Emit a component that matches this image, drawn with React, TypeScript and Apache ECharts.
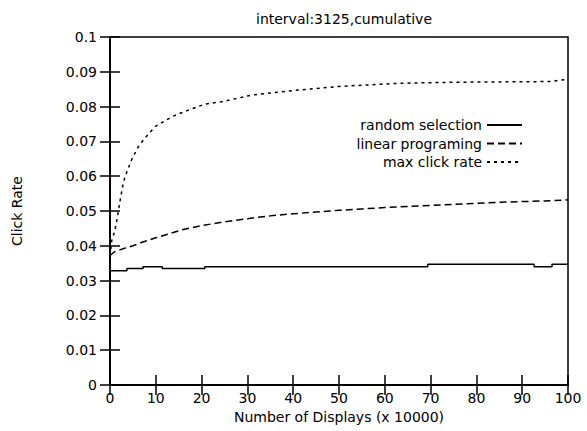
import React, { useEffect, useRef } from "react";
import * as echarts from "echarts";

const titleText = "interval:3125,cumulative";
const xName = "Number of Displays (x 10000)";
const yName = "Click Rate";

const randomName = "random selection";
const randomX = [0, 3.7, 7.2, 11.4, 20.7, 69.4, 92.6, 96.5, 100];
const randomY = [0.0328, 0.0335, 0.034, 0.0335, 0.034, 0.0347, 0.034, 0.0347, 0.0347];

const linearName = "linear programing";
const linearX = [0, 1, 3, 5, 7, 10, 13, 16, 20, 25, 30, 35, 40, 45, 50, 55, 60, 65, 70, 75, 80, 85, 90, 95, 100];
const linearY = [0.0372, 0.0383, 0.0392, 0.04, 0.041, 0.0423, 0.0435, 0.0447, 0.0458, 0.0469, 0.0478, 0.0486, 0.0492, 0.0497, 0.0502, 0.0506, 0.051, 0.0513, 0.0516, 0.0519, 0.0522, 0.0525, 0.0527, 0.0529, 0.0532];

const maxName = "max click rate";
const maxX = [0, 0.4, 1, 1.5, 2.2, 2.9, 3.3, 4.7, 6.2, 7.6, 9.8, 13.5, 17.1, 20.7, 24.4, 30.9, 41.5, 50, 63.3, 75, 85, 96, 99.7, 100];
const maxY = [0.037, 0.0417, 0.044, 0.0474, 0.053, 0.058, 0.0599, 0.0647, 0.0685, 0.0709, 0.0742, 0.0771, 0.079, 0.0807, 0.0814, 0.0833, 0.0848, 0.0858, 0.0867, 0.087, 0.0871, 0.0872, 0.0878, 0.0878];

const zip = (xs: number[], ys: number[]) => xs.map((x, i) => [x, ys[i]]);

const FONT = "DejaVu Sans";

export default function App() {
  const ref = useRef<HTMLDivElement>(null);
  useEffect(() => {
    if (!ref.current) return;
    const chart = echarts.init(ref.current, undefined, { renderer: "svg" });
    const axisCommon = {
      type: "value" as const,
      axisLine: { show: true, lineStyle: { color: "#000", width: 1.5 } },
      axisTick: { show: true, inside: true, length: 10, lineStyle: { color: "#000", width: 1.5 } },
      splitLine: { show: false },
    };
    const legendCommon = {
      orient: "vertical" as const,
      align: "right" as const,
      right: 64,
      itemWidth: 35,
      itemHeight: 10,
      itemGap: 0,
      padding: 0,
      itemStyle: { opacity: 0 },
      textStyle: { fontFamily: FONT, fontSize: 14, color: "#000" },
    };
    chart.setOption({
      animation: false,
      backgroundColor: "#fff",
      title: {
        text: titleText,
        left: 339,
        textAlign: "center",
        top: 7,
        textStyle: { fontFamily: FONT, fontSize: 14, fontWeight: "normal", color: "#000" },
      },
      grid: {
        left: 110,
        right: 19,
        top: 37,
        bottom: 46,
        show: true,
        borderColor: "#000",
        borderWidth: 1.5,
      },
      legend: [
        { ...legendCommon, top: 118, data: [randomName] },
        { ...legendCommon, top: 136.5, data: [linearName] },
        { ...legendCommon, top: 155, data: [maxName] },
      ],
      xAxis: [
        {
          ...axisCommon,
          min: 0,
          max: 100,
          interval: 10,
          position: "bottom",
          name: xName,
          nameLocation: "middle",
          nameGap: 22,
          nameTextStyle: { fontFamily: FONT, fontSize: 14, color: "#000" },
          axisLabel: { margin: 6, fontFamily: FONT, fontSize: 14, color: "#000" },
        },
        {
          ...axisCommon,
          min: 0,
          max: 100,
          interval: 10,
          position: "top",
          axisLabel: { show: false },
        },
      ],
      yAxis: [
        {
          ...axisCommon,
          min: 0,
          max: 0.1,
          interval: 0.01,
          position: "left",
          name: yName,
          nameLocation: "middle",
          nameRotate: 90,
          nameGap: 86,
          nameTextStyle: { fontFamily: FONT, fontSize: 14, color: "#000" },
          axisLabel: {
            margin: 13,
            fontFamily: FONT,
            fontSize: 14,
            color: "#000",
            formatter: (v: number) => String(Math.round(v * 100) / 100),
          },
        },
        {
          ...axisCommon,
          min: 0,
          max: 0.1,
          interval: 0.01,
          position: "right",
          axisLabel: { show: false },
        },
      ],
      series: [
        {
          name: randomName,
          type: "line",
          step: "end",
          data: zip(randomX, randomY),
          symbol: "none",
          color: "#000",
          itemStyle: { opacity: 0 },
          lineStyle: { color: "#000", width: 1.5, type: "solid" },
        },
        {
          name: linearName,
          type: "line",
          data: zip(linearX, linearY),
          symbol: "none",
          color: "#000",
          itemStyle: { opacity: 0 },
          lineStyle: { color: "#000", width: 1.5, type: [7, 4] },
        },
        {
          name: maxName,
          type: "line",
          data: zip(maxX, maxY),
          symbol: "none",
          color: "#000",
          itemStyle: { opacity: 0 },
          lineStyle: { color: "#000", width: 1.5, type: [3, 4] },
        },
      ],
    });
    return () => chart.dispose();
  }, []);
  return <div ref={ref} style={{ width: 587, height: 431, position: "fixed", left: 0, top: 0 }} />;
}
